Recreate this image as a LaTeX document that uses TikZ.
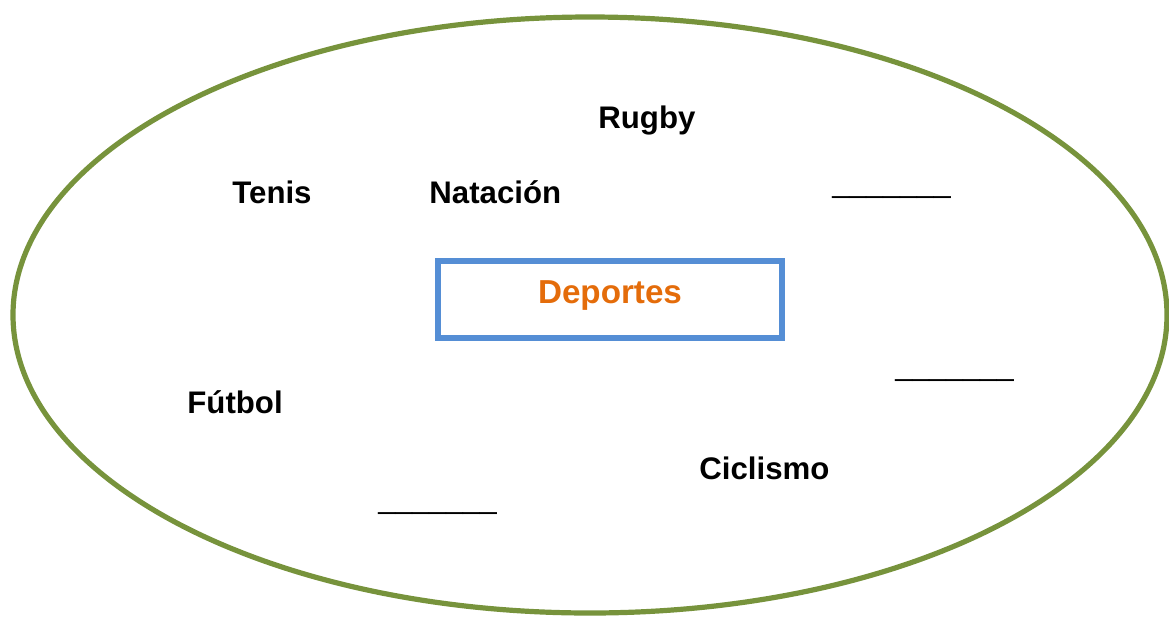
\documentclass[tikz,border=0pt]{standalone}
\usepackage{fontspec}
\setmainfont{Liberation Sans}
\usetikzlibrary{positioning}

\definecolor{olivegreen}{HTML}{77933C}
\definecolor{boxblue}{HTML}{558ED5}
\definecolor{titleorange}{HTML}{E46C0A}

\tikzset{
  sport/.style={anchor=base west, inner sep=0pt, font=\fontsize{15.6}{18}\selectfont\bfseries},
  blank/.style={anchor=base west, inner sep=0pt, font=\fontsize{15.2}{18}\selectfont},
  topicbox/.style={draw=boxblue, line width=2.6pt, minimum width=172pt, minimum height=38.5pt, inner sep=0pt}
}

\begin{document}
\begin{tikzpicture}[x=0.5pt, y=-0.5pt]

  % Fix the page size
  \useasboundingbox (0,0) rectangle (1169,617);

  % Define the center of the ellipse
  \coordinate (O) at (590,315);

  % Draw the big ellipse
  \draw[olivegreen, line width=2.6pt] (O) ellipse [x radius=577, y radius=298];

  % Draw the central box and its title
  \node[topicbox] (deportes) at (610,299.5) {};
  \node[anchor=base, inner sep=0pt, text=titleorange,
        font=\fontsize{16.6}{19}\selectfont\bfseries] (titulo) at (610,303) {Deportes};

  % Add the sports around it
  \node[sport] (rugby)    at (598,128) {Rugby};
  \node[sport] (tenis)    at (232,203) {Tenis};
  \node[sport] (natacion) at (429,203) {Natación};
  \node[sport] (futbol)   at (187,413) {Fútbol};
  \node[sport] (ciclismo) at (699,479) {Ciclismo};

  % Add the empty blanks
  \node[blank] (blankA) at (832,192.5) {\_\_\_\_\_\_\_};
  \node[blank] (blankB) at (895,375.5) {\_\_\_\_\_\_\_};
  \node[blank] (blankC) at (378,508.5) {\_\_\_\_\_\_\_};

\end{tikzpicture}
\end{document}
